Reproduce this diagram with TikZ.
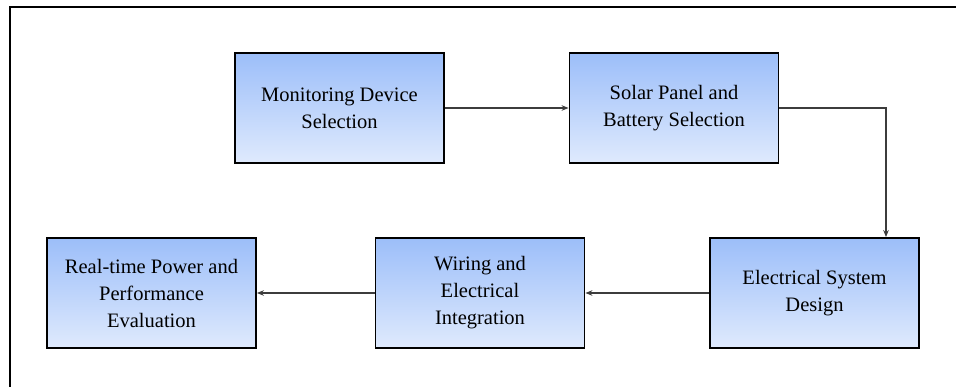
\documentclass[tikz,border=0pt]{standalone}
\usepackage{fontspec}
\newfontfamily\boxfont{Liberation Serif}
\usetikzlibrary{arrows.meta}
\definecolor{boxtop}{RGB}{156,190,249}
\definecolor{boxbot}{RGB}{223,234,253}
\definecolor{linegray}{RGB}{60,60,60}
\tikzset{
  stagebox/.style={draw=black, line width=1.8pt, top color=boxtop, bottom color=boxbot,
    minimum width=209pt, minimum height=110pt, inner sep=0pt, align=center,
    text=black, font=\boxfont\fontsize{20.5}{27}\selectfont},
  flow/.style={draw=linegray, line width=1.3pt, -{Stealth[length=7pt,width=5.5pt]}},
  frameline/.style={draw=black, line width=2.6pt}
}
\begin{document}
\begin{tikzpicture}[x=1pt,y=-1pt]
\useasboundingbox (0,0) rectangle (956,387);
\coordinate (ftop) at (956,7);
\coordinate (fcorner) at (10,7);
\coordinate (fbot) at (10,387);
\draw[frameline] (ftop) -- (fcorner) -- (fbot);
\node[stagebox] (b1) at (339.5,108) {Monitoring Device\\Selection};
\node[stagebox] (b2) at (674,108) {Solar Panel and\\Battery Selection};
\node[stagebox] (b3) at (814.5,293) {Electrical System\\Design};
\node[stagebox] (b4) at (480,293) {Wiring and\\Electrical\\Integration};
\node[stagebox] (b5) at (151.5,293) {Real-time Power and\\Performance\\Evaluation};
\draw[flow] (b1) -- (b2);
\draw[flow] (b2.east) -| ([xshift=71.5pt]b3.north);
\draw[flow] (b3) -- (b4);
\draw[flow] (b4) -- (b5);
\end{tikzpicture}
\end{document}
